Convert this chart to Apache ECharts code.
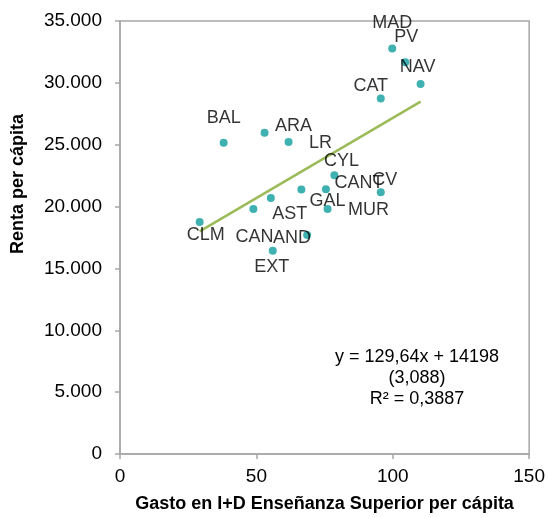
<!DOCTYPE html>
<html><head><meta charset="utf-8">
<script src="https://cdn.jsdelivr.net/npm/echarts@6/dist/echarts.min.js"></script>
<style>html,body{margin:0;padding:0;background:#fff}#c{width:548px;height:518px}</style>
</head><body><div id="c"></div>
<script>
// ---- data ----
const regions = ['MAD','PV','NAV','CAT','BAL','ARA','LR','CYL','CANT','GAL','CV','AST','CAN','MUR','AND','CLM','EXT'];
const gastoID = [99.8,104.6,110.2,95.6,38.0,53.0,61.8,78.6,75.5,66.5,95.6,55.3,48.9,76.1,68.6,29.2,56.0];
const renta   = [32770,31670,29910,28740,25150,25960,25210,22540,21410,21390,21150,20690,19800,19800,17700,18750,16430];
const trendX = [29.2,110.2];
const trendY = [18000,28480];
const equationLines = ['y = 129,64x + 14198','(3,088)','R\u00B2 = 0,3887'];
const xAxisTitle = 'Gasto en I+D Ense\u00F1anza Superior per c\u00E1pita';
const yAxisTitle = 'Renta per c\u00E1pita';

// ---- label placement (style, not data) ----
const labelOffsets = {
  MAD:[0,-26], PV:[1,-25], NAV:[-3,-17], CAT:[-10,-12], BAL:[0,-25], ARA:[29,-7], LR:[32,1],
  CYL:[7,-14], CANT:[33,-6], GAL:[26,12], CV:[4,-12], AST:[19,16], CAN:[1,28], MUR:[41,1],
  AND:[-15,3], CLM:[6,13], EXT:[-1,16]
};

const FONT = '"Liberation Sans", Arial, sans-serif';
const fmt = v => String(v).replace(/\B(?=(\d{3})+(?!\d))/g, '.');

const scatterData = regions.map((r, i) => ({
  name: r,
  value: [gastoID[i], renta[i]],
  label: { offset: labelOffsets[r] }
}));

const chart = echarts.init(document.getElementById('c'), null, {renderer: 'canvas'});
chart.setOption({
  backgroundColor: '#fff',
  animation: false,
  grid: { left: 120, right: 16, top: 21, bottom: 64, show: true, borderColor: '#a6a6a6', borderWidth: 1.5, backgroundColor: 'transparent' },
  xAxis: {
    type: 'value', min: 0, max: 150, interval: 50,
    name: xAxisTitle, nameLocation: 'middle', nameGap: 41,
    nameTextStyle: { fontFamily: FONT, fontSize: 18, fontWeight: 'bold', color: '#000' },
    axisLine: { show: true, lineStyle: { color: '#a6a6a6', width: 1.5 } },
    axisTick: { show: true, inside: false, length: 5, lineStyle: { color: '#a6a6a6', width: 1.5 } },
    axisLabel: { fontFamily: FONT, fontSize: 19, color: '#000', margin: 13 },
    splitLine: { show: false }
  },
  yAxis: {
    type: 'value', min: 0, max: 35000, interval: 5000,
    axisLine: { show: true, lineStyle: { color: '#a6a6a6', width: 1.5 } },
    axisTick: { show: true, inside: false, length: 5, lineStyle: { color: '#a6a6a6', width: 1.5 } },
    axisLabel: { fontFamily: FONT, fontSize: 19, color: '#000', margin: 18, formatter: fmt },
    splitLine: { show: false }
  },
  graphic: [
    { type: 'text', x: 18, y: 184, rotation: Math.PI / 2,
      style: { text: yAxisTitle, font: 'bold 18px ' + FONT, fill: '#000', align: 'center', verticalAlign: 'middle', textAlign: 'center', textVerticalAlign: 'middle' } },
    { type: 'text', x: 417, y: 378,
      style: { text: equationLines.join('\n'), font: '18px ' + FONT, fill: '#000', lineHeight: 21, align: 'center', verticalAlign: 'middle', textAlign: 'center', textVerticalAlign: 'middle' } }
  ],
  series: [
    { type: 'line', data: trendX.map((x, i) => [x, trendY[i]]), showSymbol: false, symbol: 'none',
      lineStyle: { color: '#9bbb59', width: 2.5 }, silent: true, z: 2 },
    { type: 'scatter', data: scatterData, symbol: 'circle', symbolSize: 8,
      itemStyle: { color: '#0f9e9e' }, z: 3,
      label: { show: true, position: 'inside', formatter: p => p.name, fontFamily: FONT, fontSize: 18, color: '#000' } }
  ]
});
</script></body></html>
